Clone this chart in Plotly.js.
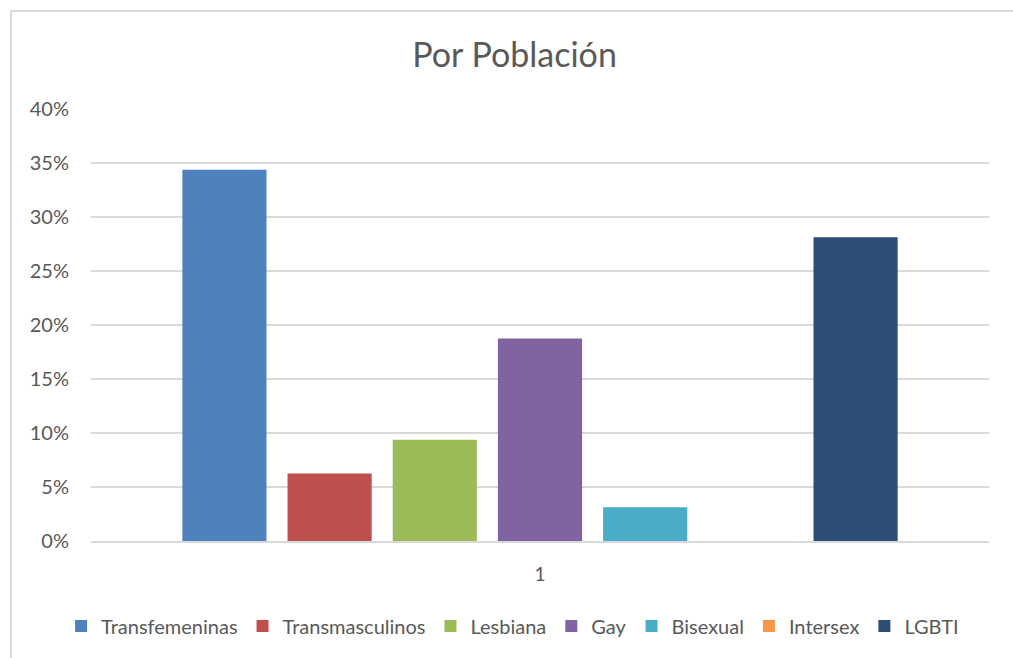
<!DOCTYPE html>
<html>
<head>
<meta charset="utf-8">
<script src="https://cdn.plot.ly/plotly-3.0.1.min.js"></script>
<style>
html,body{margin:0;padding:0;background:#fff;}
#frame{position:absolute;left:10px;top:10px;width:1020px;height:670px;border:2px solid #d9d9d9;box-sizing:border-box;}
#chart{position:absolute;left:0;top:0;width:1013px;height:658px;}
</style>
</head>
<body>
<div id="frame"></div>
<div id="chart"></div>
<script>
const categories = ["1"];
const seriesNames = ["Transfemeninas","Transmasculinos","Lesbiana","Gay","Bisexual","Intersex","LGBTI"];
const seriesValues = [0.34375, 0.0625, 0.09375, 0.1875, 0.03125, 0, 0.28125];
const seriesColors = ["#4f81bd","#c0504d","#9bbb59","#8064a2","#4bacc6","#f79646","#2c4d75"];
const tickVals = [0,0.05,0.10,0.15,0.20,0.25,0.30,0.35,0.40];
const tickText = ["0%","5%","10%","15%","20%","25%","30%","35%","40%"];

const FONT = "Lato, Open Sans, sans-serif";
const traces = seriesNames.map((n,i)=>({
  type:"bar", name:n, x:categories, y:[seriesValues[i]],
  marker:{color:seriesColors[i]}, hoverinfo:"skip"
}));

const layout = {
  width:1013, height:658,
  paper_bgcolor:"rgba(0,0,0,0)", plot_bgcolor:"rgba(0,0,0,0)",
  margin:{l:91,r:24,t:109,b:117},
  barmode:"group", bargap:0.18, bargroupgap:0.2,
  title:{text:"Por Población", x:0.508, xanchor:"center", xref:"container", y:0.916, yanchor:"middle", yref:"container",
    font:{family:FONT, size:34, color:"#595959"}},
  xaxis:{type:"category", showgrid:false, showline:true, linecolor:"#d9d9d9", linewidth:1.5,
    ticks:"", tickfont:{family:FONT,size:19,color:"#595959"}, ticklabelstandoff:16},
  yaxis:{range:[0,0.40], tickvals:tickVals, ticktext:tickText, showgrid:true, gridcolor:"#d9d9d9", gridwidth:1.5,
    zeroline:false, showline:false, ticks:"", tickfont:{family:FONT,size:20,color:"#595959"}, ticklabelstandoff:21},
  showlegend:true,
  legend:{orientation:"h", x:0.506, xanchor:"center", xref:"container", y:1-626/658, yanchor:"middle", yref:"container",
    font:{family:FONT,size:20,color:"#595959"}, itemwidth:30, tracegroupgap:0, traceorder:"normal"}
};
Plotly.newPlot("chart", traces, layout, {displayModeBar:false, staticPlot:true});
</script>
</body>
</html>
